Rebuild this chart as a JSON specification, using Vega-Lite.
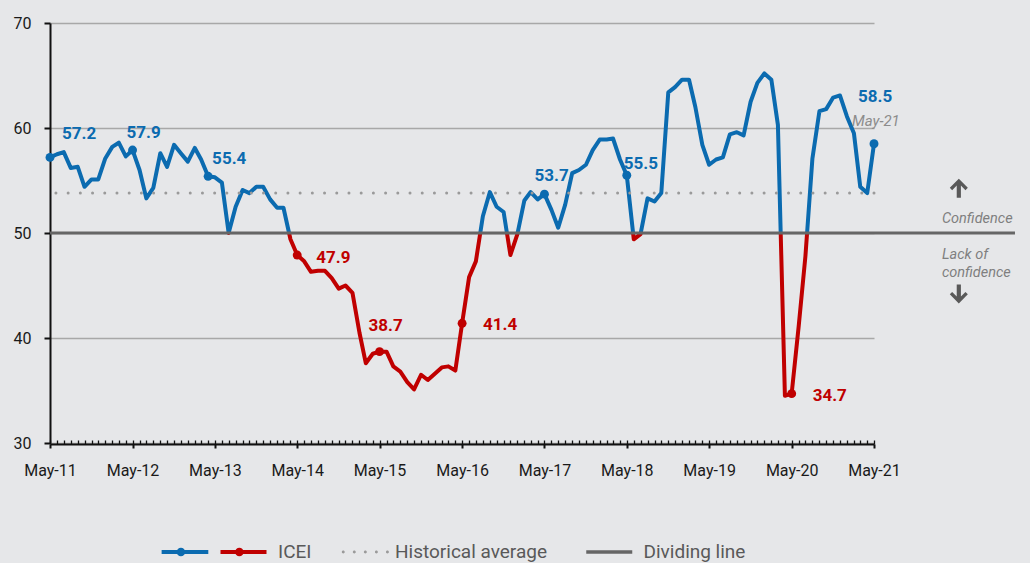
{
  "$schema": "https://vega.github.io/schema/vega-lite/v6.json",
  "width": 824,
  "height": 420,
  "autosize": {"type": "none"},
  "padding": {"left": 50, "top": 23, "right": 156, "bottom": 120},
  "background": "#e6e7e9",
  "config": {
    "view": {"stroke": null},
    "font": "Roboto",
    "legend": {"labelFontSize": 19, "labelColor": "#595959", "labelFont": "Roboto", "padding": 0}
  },
  "datasets": {
    "icei": [
      {"month": "2011-05-01", "value": 57.2}, {"month": "2011-06-01", "value": 57.5}, {"month": "2011-07-01", "value": 57.7},
      {"month": "2011-08-01", "value": 56.2}, {"month": "2011-09-01", "value": 56.3}, {"month": "2011-10-01", "value": 54.4},
      {"month": "2011-11-01", "value": 55.1}, {"month": "2011-12-01", "value": 55.1}, {"month": "2012-01-01", "value": 57.1},
      {"month": "2012-02-01", "value": 58.2}, {"month": "2012-03-01", "value": 58.6}, {"month": "2012-04-01", "value": 57.3},
      {"month": "2012-05-01", "value": 57.9}, {"month": "2012-06-01", "value": 56.0}, {"month": "2012-07-01", "value": 53.3},
      {"month": "2012-08-01", "value": 54.3}, {"month": "2012-09-01", "value": 57.6}, {"month": "2012-10-01", "value": 56.3},
      {"month": "2012-11-01", "value": 58.4}, {"month": "2012-12-01", "value": 57.6}, {"month": "2013-01-01", "value": 56.8},
      {"month": "2013-02-01", "value": 58.1}, {"month": "2013-03-01", "value": 57.0}, {"month": "2013-04-01", "value": 55.4},
      {"month": "2013-05-01", "value": 55.3}, {"month": "2013-06-01", "value": 54.8}, {"month": "2013-07-01", "value": 50.0},
      {"month": "2013-08-01", "value": 52.5}, {"month": "2013-09-01", "value": 54.1}, {"month": "2013-10-01", "value": 53.8},
      {"month": "2013-11-01", "value": 54.4}, {"month": "2013-12-01", "value": 54.4}, {"month": "2014-01-01", "value": 53.2},
      {"month": "2014-02-01", "value": 52.4}, {"month": "2014-03-01", "value": 52.4}, {"month": "2014-04-01", "value": 49.4},
      {"month": "2014-05-01", "value": 47.9}, {"month": "2014-06-01", "value": 47.3}, {"month": "2014-07-01", "value": 46.3},
      {"month": "2014-08-01", "value": 46.4}, {"month": "2014-09-01", "value": 46.4}, {"month": "2014-10-01", "value": 45.7},
      {"month": "2014-11-01", "value": 44.7}, {"month": "2014-12-01", "value": 45.0}, {"month": "2015-01-01", "value": 44.3},
      {"month": "2015-02-01", "value": 40.5}, {"month": "2015-03-01", "value": 37.6}, {"month": "2015-04-01", "value": 38.5},
      {"month": "2015-05-01", "value": 38.7}, {"month": "2015-06-01", "value": 38.7}, {"month": "2015-07-01", "value": 37.3},
      {"month": "2015-08-01", "value": 36.8}, {"month": "2015-09-01", "value": 35.8}, {"month": "2015-10-01", "value": 35.1},
      {"month": "2015-11-01", "value": 36.5}, {"month": "2015-12-01", "value": 36.0}, {"month": "2016-01-01", "value": 36.6},
      {"month": "2016-02-01", "value": 37.2}, {"month": "2016-03-01", "value": 37.3}, {"month": "2016-04-01", "value": 36.9},
      {"month": "2016-05-01", "value": 41.4}, {"month": "2016-06-01", "value": 45.8}, {"month": "2016-07-01", "value": 47.3},
      {"month": "2016-08-01", "value": 51.6}, {"month": "2016-09-01", "value": 53.9}, {"month": "2016-10-01", "value": 52.5},
      {"month": "2016-11-01", "value": 52.0}, {"month": "2016-12-01", "value": 47.9}, {"month": "2017-01-01", "value": 49.9},
      {"month": "2017-02-01", "value": 53.1}, {"month": "2017-03-01", "value": 53.9}, {"month": "2017-04-01", "value": 53.2},
      {"month": "2017-05-01", "value": 53.7}, {"month": "2017-06-01", "value": 52.2}, {"month": "2017-07-01", "value": 50.5},
      {"month": "2017-08-01", "value": 52.7}, {"month": "2017-09-01", "value": 55.7}, {"month": "2017-10-01", "value": 56.0},
      {"month": "2017-11-01", "value": 56.5}, {"month": "2017-12-01", "value": 57.9}, {"month": "2018-01-01", "value": 58.9},
      {"month": "2018-02-01", "value": 58.9}, {"month": "2018-03-01", "value": 59.0}, {"month": "2018-04-01", "value": 57.0},
      {"month": "2018-05-01", "value": 55.5}, {"month": "2018-06-01", "value": 49.4}, {"month": "2018-07-01", "value": 49.9},
      {"month": "2018-08-01", "value": 53.3}, {"month": "2018-09-01", "value": 53.0}, {"month": "2018-10-01", "value": 53.8},
      {"month": "2018-11-01", "value": 63.4}, {"month": "2018-12-01", "value": 63.9}, {"month": "2019-01-01", "value": 64.6},
      {"month": "2019-02-01", "value": 64.6}, {"month": "2019-03-01", "value": 62.0}, {"month": "2019-04-01", "value": 58.4},
      {"month": "2019-05-01", "value": 56.5}, {"month": "2019-06-01", "value": 57.0}, {"month": "2019-07-01", "value": 57.2},
      {"month": "2019-08-01", "value": 59.4}, {"month": "2019-09-01", "value": 59.6}, {"month": "2019-10-01", "value": 59.3},
      {"month": "2019-11-01", "value": 62.5}, {"month": "2019-12-01", "value": 64.3}, {"month": "2020-01-01", "value": 65.2},
      {"month": "2020-02-01", "value": 64.6}, {"month": "2020-03-01", "value": 60.3}, {"month": "2020-04-01", "value": 34.5},
      {"month": "2020-05-01", "value": 34.7}, {"month": "2020-06-01", "value": 41.1}, {"month": "2020-07-01", "value": 47.8},
      {"month": "2020-08-01", "value": 57.1}, {"month": "2020-09-01", "value": 61.6}, {"month": "2020-10-01", "value": 61.8},
      {"month": "2020-11-01", "value": 62.9}, {"month": "2020-12-01", "value": 63.1}, {"month": "2021-01-01", "value": 61.1},
      {"month": "2021-02-01", "value": 59.5}, {"month": "2021-03-01", "value": 54.4}, {"month": "2021-04-01", "value": 53.8},
      {"month": "2021-05-01", "value": 58.5}
    ],
    "refs": [
      {"series": "Historical average", "value": 53.8},
      {"series": "Dividing line", "value": 50}
    ]
  },
  "resolve": {"axis": {"x": "independent"}},
  "layer": [
    {
      "data": {"name": "icei"},
      "mark": {
        "type": "line",
        "strokeWidth": 4,
        "strokeJoin": "round",
        "stroke": {
          "gradient": "linear", "x1": 0, "y1": 0, "x2": 0, "y2": 1,
          "stops": [
            {"offset": 0, "color": "#0b6bb0"},
            {"offset": 0.4951, "color": "#0b6bb0"},
            {"offset": 0.4951, "color": "#c00000"},
            {"offset": 1, "color": "#c00000"}
          ]
        }
      },
      "encoding": {
        "x": {
          "field": "month", "type": "temporal",
          "scale": {
            "type": "utc", "nice": false,
            "domain": [{"year": 2011, "month": 5, "date": 1, "utc": true}, {"year": 2021, "month": 5, "date": 1, "utc": true}]
          },
          "axis": {
            "orient": "bottom",
            "values": [
              {"year": 2011, "month": 5, "date": 1, "utc": true}, {"year": 2012, "month": 5, "date": 1, "utc": true},
              {"year": 2013, "month": 5, "date": 1, "utc": true}, {"year": 2014, "month": 5, "date": 1, "utc": true},
              {"year": 2015, "month": 5, "date": 1, "utc": true}, {"year": 2016, "month": 5, "date": 1, "utc": true},
              {"year": 2017, "month": 5, "date": 1, "utc": true}, {"year": 2018, "month": 5, "date": 1, "utc": true},
              {"year": 2019, "month": 5, "date": 1, "utc": true}, {"year": 2020, "month": 5, "date": 1, "utc": true},
              {"year": 2021, "month": 5, "date": 1, "utc": true}
            ],
            "labelExpr": "utcFormat(datum.value, '%b-%y')",
            "title": null, "grid": false, "offset": 1,
            "domainColor": "#111111", "domainWidth": 2,
            "tickColor": "#111111", "tickWidth": 2, "tickSize": 4,
            "labelFontSize": 16, "labelColor": "#1a1a1a", "labelPadding": 14,
            "labelFlush": false, "labelOverlap": false
          }
        },
        "y": {
          "field": "value", "type": "quantitative",
          "scale": {"domain": [30, 70], "nice": false, "zero": false},
          "axis": {
            "values": [30, 40, 50, 60, 70], "title": null,
            "grid": true, "gridColor": "#a8a8a8", "gridWidth": 1.3,
            "domainColor": "#111111", "domainWidth": 2,
            "tickColor": "#111111", "tickWidth": 2, "tickSize": 6,
            "labelFontSize": 16, "labelColor": "#1a1a1a", "labelPadding": 13
          }
        }
      }
    },
    {
      "data": {"name": "refs"},
      "transform": [{"filter": "datum.series === 'Historical average'"}],
      "mark": {"type": "rule", "strokeWidth": 3, "strokeDash": [0.01, 12.2], "strokeCap": "round"},
      "encoding": {
        "y": {"field": "value", "type": "quantitative"},
        "color": {
          "field": "series", "type": "nominal",
          "scale": {"domain": ["Historical average"], "range": ["#9a9a9a"]},
          "legend": {
            "orient": "none", "legendX": 292.35, "legendY": 506, "title": null,
            "symbolType": "M-1.025,0a0.065,0.065 0 1,0 0.13,0a0.065,0.065 0 1,0 -0.13,0ZM-0.545,0a0.065,0.065 0 1,0 0.13,0a0.065,0.065 0 1,0 -0.13,0ZM-0.065,0a0.065,0.065 0 1,0 0.13,0a0.065,0.065 0 1,0 -0.13,0ZM0.415,0a0.065,0.065 0 1,0 0.13,0a0.065,0.065 0 1,0 -0.13,0ZM0.895,0a0.065,0.065 0 1,0 0.13,0a0.065,0.065 0 1,0 -0.13,0Z",
            "symbolSize": 2116, "symbolStrokeWidth": 0, "symbolFillColor": "#9a9a9a",
            "labelOffset": 6.65
          }
        }
      }
    },
    {
      "data": {"name": "refs"},
      "transform": [{"filter": "datum.series === 'Dividing line'"}],
      "mark": {"type": "rule", "strokeWidth": 3},
      "encoding": {
        "y": {"field": "value", "type": "quantitative"},
        "x": {"datum": {"year": 2011, "month": 5, "date": 1, "utc": true}, "type": "temporal", "axis": null},
        "x2": {"datum": {"year": 2023, "month": 1, "date": 16, "utc": true}},
        "stroke": {
          "field": "series", "type": "nominal",
          "scale": {"domain": ["Dividing line"], "range": ["#666666"]},
          "legend": {
            "orient": "none", "legendX": 534.25, "legendY": 504, "title": null,
            "symbolType": "stroke", "symbolSize": 2116, "symbolStrokeWidth": 3.5,
            "labelOffset": 9.25
          }
        }
      }
    },
    {
      "data": {"values": []},
      "mark": {
        "type": "point", "filled": true, "opacity": 1,
        "fill": {"gradient": "linear", "x1": 0, "y1": 0, "x2": 1, "y2": 0,
          "stops": [{"offset": 0, "color": "#0b6bb0"}, {"offset": 0.5033, "color": "#0b6bb0"}, {"offset": 0.5033, "color": "#c00000"}, {"offset": 1, "color": "#c00000"}]},
        "stroke": {"gradient": "linear", "x1": 0, "y1": 0, "x2": 1, "y2": 0,
          "stops": [{"offset": 0, "color": "#0b6bb0"}, {"offset": 0.5033, "color": "#0b6bb0"}, {"offset": 0.5033, "color": "#c00000"}, {"offset": 1, "color": "#c00000"}]}
      },
      "encoding": {
        "shape": {
          "field": "series", "type": "nominal",
          "scale": {
            "domain": ["ICEI"],
            "range": ["M-3.56,0H-1.53M-1,0H1M-2.82,0a0.1,0.1 0 1,0 0.2,0a0.1,0.1 0 1,0 -0.2,0ZM-0.28,0a0.1,0.1 0 1,0 0.2,0a0.1,0.1 0 1,0 -0.2,0Z"]
          },
          "legend": {
            "orient": "none", "legendX": 168.5, "legendY": 504, "title": null,
            "symbolSize": 2116, "symbolStrokeWidth": 4, "labelOffset": 9.5
          }
        }
      }
    },
    {
      "data": {"name": "icei"},
      "transform": [{"filter": "(utcmonth(datum.month) === 4 && utcyear(datum.month) !== 2013 && utcyear(datum.month) !== 2019) || (utcyear(datum.month) === 2013 && utcmonth(datum.month) === 3)"}],
      "mark": {"type": "circle", "size": 80, "opacity": 1},
      "encoding": {
        "x": {
          "field": "month", "type": "temporal",
          "axis": {
            "orient": "bottom", "tickCount": {"interval": "month", "step": 1},
            "labels": false, "domain": false, "grid": false, "title": null, "offset": 1,
            "tickSize": -4, "tickWidth": 1.3, "tickColor": "#111111"
          }
        },
        "y": {"field": "value", "type": "quantitative"},
        "color": {"condition": {"test": "datum.value < 50", "value": "#c00000"}, "value": "#0b6bb0"}
      }
    },
    {
      "data": {"name": "icei"},
      "transform": [{"filter": "(utcmonth(datum.month) === 4 && utcyear(datum.month) !== 2013 && utcyear(datum.month) !== 2019) || (utcyear(datum.month) === 2013 && utcmonth(datum.month) === 3)"}],
      "mark": {
        "type": "text", "align": "left", "baseline": "alphabetic", "fontSize": 17, "fontWeight": "bold",
        "dx": {"expr": "[12,-6,4,19,-11,21,-10,-3,0,21,-16][utcyear(datum.month)-2011]"},
        "dy": {"expr": "[-18,-12,-12,8,-21,7,-13,-6,0,7,-42][utcyear(datum.month)-2011]"}
      },
      "encoding": {
        "x": {"field": "month", "type": "temporal", "axis": null},
        "y": {"field": "value", "type": "quantitative"},
        "text": {"field": "value", "type": "quantitative", "format": ".1f"},
        "color": {"condition": {"test": "datum.value < 50", "value": "#c00000"}, "value": "#0b6bb0"}
      }
    },
    {
      "data": {"name": "icei"},
      "transform": [{"filter": "utcyear(datum.month) === 2021 && utcmonth(datum.month) === 4"}],
      "mark": {"type": "text", "align": "left", "baseline": "alphabetic", "fontSize": 15, "fontStyle": "italic", "color": "#8c8c8c", "dx": -22, "dy": -18},
      "encoding": {
        "x": {"field": "month", "type": "temporal", "axis": null},
        "y": {"field": "value", "type": "quantitative"},
        "text": {"value": "May-21"}
      }
    },
    {
      "data": {"values": [{}]},
      "mark": {"type": "text", "align": "left", "baseline": "alphabetic", "fontSize": 14.5, "fontStyle": "italic", "color": "#7f7f7f"},
      "encoding": {
        "x": {"datum": {"year": 2022, "month": 2, "date": 26, "utc": true}, "type": "temporal", "axis": null},
        "y": {"datum": 50.98, "type": "quantitative"},
        "text": {"value": "Confidence"}
      }
    },
    {
      "data": {"values": [{}]},
      "mark": {"type": "text", "align": "left", "baseline": "alphabetic", "fontSize": 14.5, "fontStyle": "italic", "color": "#7f7f7f", "lineHeight": 18},
      "encoding": {
        "x": {"datum": {"year": 2022, "month": 2, "date": 26, "utc": true}, "type": "temporal", "axis": null},
        "y": {"datum": 47.52, "type": "quantitative"},
        "text": {"value": ["Lack of", "confidence"]}
      }
    },
    {
      "data": {"values": [{}]},
      "mark": {"type": "point", "filled": true, "opacity": 1, "color": "#595959", "size": 361,
        "shape": "M0,-1L0.95,-0.05L0.7,0.2L0.22,-0.28L0.22,1L-0.22,1L-0.22,-0.28L-0.7,0.2L-0.95,-0.05Z"},
      "encoding": {
        "x": {"datum": {"year": 2022, "month": 5, "date": 12, "utc": true}, "type": "temporal", "axis": null},
        "y": {"datum": 54.26, "type": "quantitative"}
      }
    },
    {
      "data": {"values": [{}]},
      "mark": {"type": "point", "filled": true, "opacity": 1, "color": "#595959", "size": 361,
        "shape": "M0,1L0.95,0.05L0.7,-0.2L0.22,0.28L0.22,-1L-0.22,-1L-0.22,0.28L-0.7,-0.2L-0.95,0.05Z"},
      "encoding": {
        "x": {"datum": {"year": 2022, "month": 5, "date": 12, "utc": true}, "type": "temporal", "axis": null},
        "y": {"datum": 44.2, "type": "quantitative"}
      }
    }
  ]
}
